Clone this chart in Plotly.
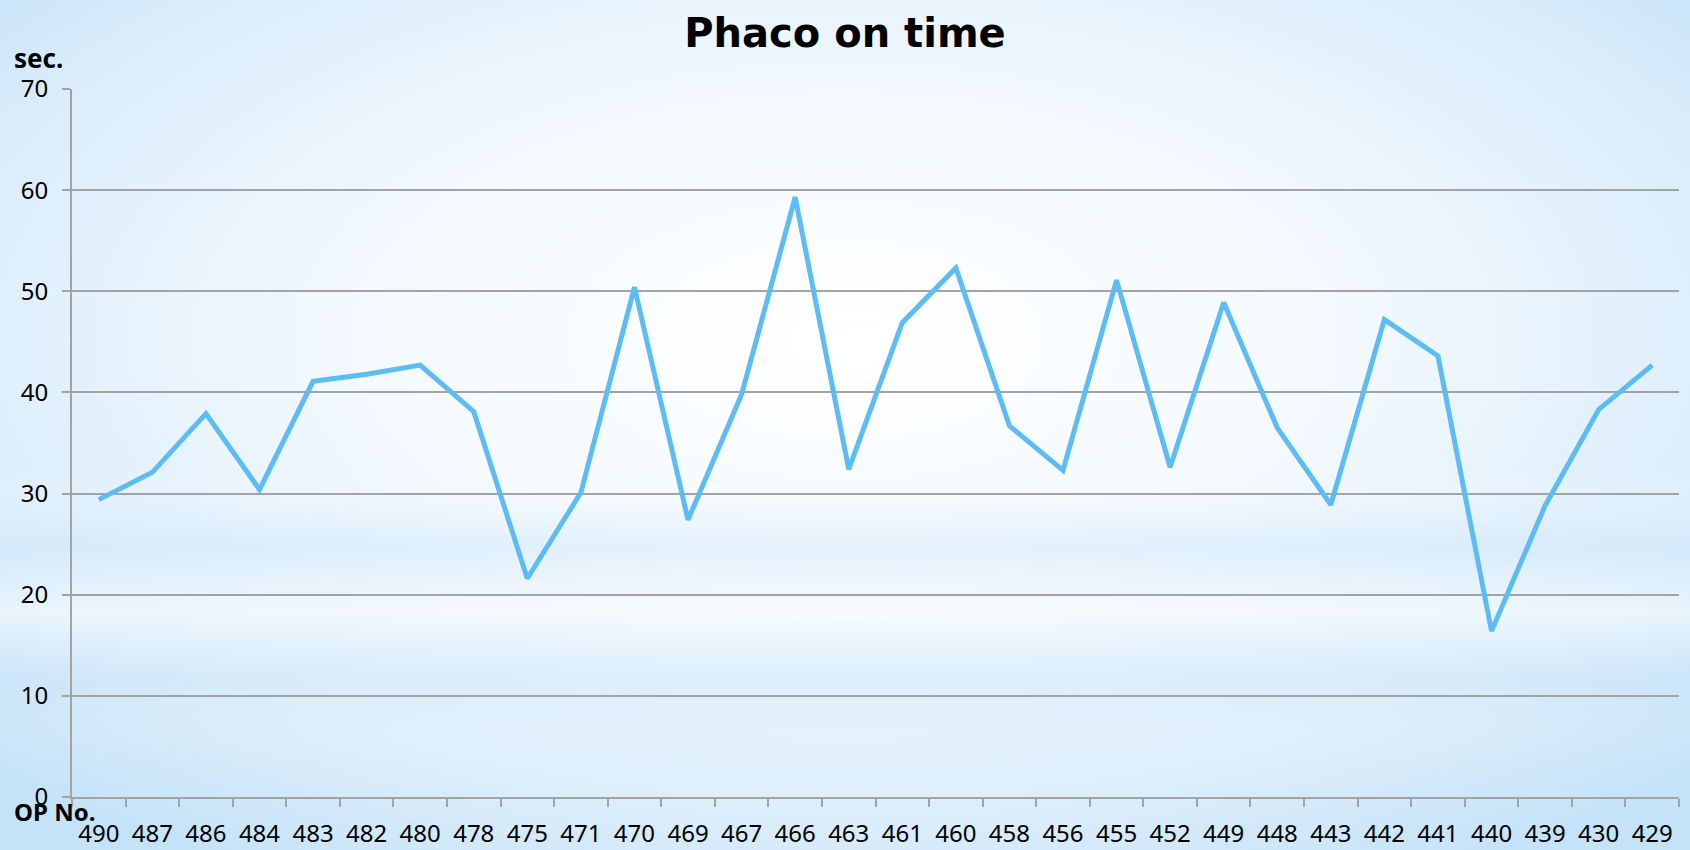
"""Phaco on time: line chart per OP No."""

import base64

import plotly.graph_objects as go

op_no = [
    "490", "487", "486", "484", "483", "482", "480", "478", "475", "471",
    "470", "469", "467", "466", "463", "461", "460", "458", "456", "455",
    "452", "449", "448", "443", "442", "441", "440", "439", "430", "429",
]
phaco_sec = [
    29.4, 32.1, 37.9, 30.4, 41.1, 41.8, 42.7, 38.1, 21.6, 30.1,
    50.4, 27.4, 39.8, 59.3, 32.4, 46.9, 52.3, 36.7, 32.3, 51.1,
    32.6, 48.9, 36.5, 28.9, 47.2, 43.6, 16.4, 28.8, 38.3, 42.7,
]
y_ticks = [0, 10, 20, 30, 40, 50, 60, 70]

W, H = 1690, 850
M_L, M_R, M_T, M_B = 72, 11, 89, 53
GRID = "#a3a3a3"
FONT = "Noto Sans"

# soft blue background with a white centre and faint horizontal bands
bg_svg = (
    f"<svg xmlns='http://www.w3.org/2000/svg' width='{W}' height='{H}'>"
    "<defs>"
    "<radialGradient id='g' cx='0.5' cy='0.4' r='0.72'>"
    "<stop offset='0' stop-color='#ffffff'/>"
    "<stop offset='0.4' stop-color='#f3f9fe'/>"
    "<stop offset='0.75' stop-color='#dbedfb'/>"
    "<stop offset='1' stop-color='#bedff7'/>"
    "</radialGradient>"
    "<linearGradient id='b' x1='0' y1='0' x2='0' y2='1'>"
    "<stop offset='0.55' stop-color='#ffffff' stop-opacity='0'/>"
    "<stop offset='0.64' stop-color='#cbe5f9' stop-opacity='0.45'/>"
    "<stop offset='0.72' stop-color='#ffffff' stop-opacity='0.5'/>"
    "<stop offset='0.8' stop-color='#cbe5f9' stop-opacity='0.4'/>"
    "<stop offset='0.9' stop-color='#ffffff' stop-opacity='0.1'/>"
    "</linearGradient>"
    "</defs>"
    "<rect width='100%' height='100%' fill='url(#g)'/>"
    "<rect width='100%' height='100%' fill='url(#b)'/></svg>"
)
bg_src = "data:image/svg+xml;base64," + base64.b64encode(bg_svg.encode()).decode()

pw, ph = W - M_L - M_R, H - M_T - M_B

fig = go.Figure()
fig.add_trace(
    go.Scatter(
        x=op_no,
        y=phaco_sec,
        mode="lines",
        line=dict(color="#5dbcf4", width=5),
        showlegend=False,
        hoverinfo="x+y",
    )
)

fig.update_layout(
    width=W,
    height=H,
    margin=dict(l=M_L, r=M_R, t=M_T, b=M_B),
    paper_bgcolor="#dcedfb",
    plot_bgcolor="rgba(0,0,0,0)",
    font=dict(family=FONT, color="#000000"),
    title=dict(
        text="<b>Phaco on time</b>",
        x=0.5,
        xanchor="center",
        y=1 - 33 / H,
        yanchor="middle",
        font=dict(family="DejaVu Sans", size=40, color="#000000"),
    ),
    images=[
        dict(
            source=bg_src,
            xref="paper",
            yref="paper",
            x=-M_L / pw,
            y=1 + M_T / ph,
            sizex=W / pw,
            sizey=H / ph,
            sizing="stretch",
            xanchor="left",
            yanchor="top",
            layer="below",
        )
    ],
)

fig.update_xaxes(
    type="category",
    range=[-0.5, len(op_no) - 0.5],
    automargin=False,
    showgrid=False,
    showline=True,
    linecolor=GRID,
    linewidth=2,
    ticks="outside",
    tickson="boundaries",
    ticklen=8,
    tickcolor=GRID,
    tickwidth=2,
    tickfont=dict(family=FONT, size=24, color="#000000"),
    ticklabelstandoff=14,
    tickangle=0,
    zeroline=False,
)
fig.update_yaxes(
    range=[0, 70],
    tickvals=y_ticks,
    automargin=False,
    showgrid=True,
    gridcolor=GRID,
    gridwidth=2,
    showline=True,
    linecolor=GRID,
    linewidth=2,
    ticks="outside",
    ticklen=8,
    tickcolor=GRID,
    tickwidth=2,
    tickfont=dict(family=FONT, size=24, color="#000000"),
    ticklabelstandoff=9,
    zeroline=False,
)

fig.add_annotation(
    text="<b>sec.</b>", xref="paper", yref="paper",
    x=-60 / pw, y=1 + 31 / ph, xanchor="left", yanchor="middle",
    showarrow=False, font=dict(family=FONT, size=26, color="#000000"),
)
fig.add_annotation(
    text="<b>OP No.</b>", xref="paper", yref="paper",
    x=-60 / pw, y=-14 / ph, xanchor="left", yanchor="middle",
    showarrow=False, font=dict(family=FONT, size=24, color="#000000"),
)

fig.write_html(
    "out.html",
    config={"displayModeBar": False},
    post_script=(
        "document.body.style.margin='0';"
        "document.body.style.overflow='hidden';"
        "document.body.style.background='#d2e8fa';"
    ),
)
